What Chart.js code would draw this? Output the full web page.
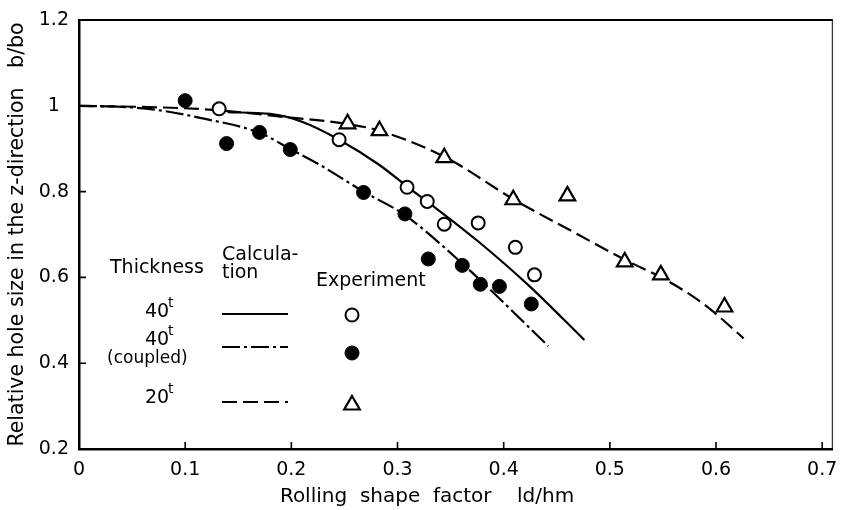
<!DOCTYPE html>
<html>
<head>
<meta charset="utf-8">
<script src="https://cdn.jsdelivr.net/npm/chart.js@4.4.0/dist/chart.umd.min.js"></script>
<style>
  html, body { margin: 0; padding: 0; background: #fff; }
  #wrap { width: 844px; height: 510px; }
</style>
</head>
<body>
<div id="wrap"><canvas id="chart" width="844" height="510"></canvas></div>
<script>
// axis ticks
const xTicks = [0, 0.1, 0.2, 0.3, 0.4, 0.5, 0.6, 0.7];
const xTickLabels = ['0', '0.1', '0.2', '0.3', '0.4', '0.5', '0.6', '0.7'];
const yTicks = [0.2, 0.4, 0.6, 0.8, 1.0, 1.2];
const yTickLabels = ['0.2', '0.4', '0.6', '0.8', '1', '1.2'];

// calculation curves
const calc40X = [0.140, 0.180, 0.210, 0.245, 0.283, 0.310, 0.330, 0.375, 0.425, 0.476];
const calc40Y = [0.985, 0.981, 0.963, 0.921, 0.862, 0.810, 0.773, 0.686, 0.578, 0.454];

const calc40cX = [0, 0.050, 0.080, 0.114, 0.170, 0.200, 0.227, 0.268, 0.307, 0.362, 0.442];
const calc40cY = [1.0, 0.996, 0.988, 0.972, 0.937, 0.898, 0.862, 0.800, 0.745, 0.630, 0.440];

const calc20X = [0, 0.080, 0.130, 0.193, 0.252, 0.283, 0.345, 0.410, 0.470, 0.515, 0.550, 0.590, 0.626];
const calc20Y = [1.0, 0.996, 0.990, 0.974, 0.958, 0.942, 0.880, 0.781, 0.700, 0.640, 0.598, 0.535, 0.458];

// experiments
const exp40X = [0.132, 0.245, 0.309, 0.328, 0.344, 0.376, 0.411, 0.429];
const exp40Y = [0.993, 0.921, 0.810, 0.777, 0.724, 0.727, 0.670, 0.606];

const exp40cX = [0.100, 0.139, 0.170, 0.199, 0.268, 0.307, 0.329, 0.361, 0.378, 0.396, 0.426];
const exp40cY = [1.012, 0.912, 0.938, 0.898, 0.798, 0.748, 0.643, 0.628, 0.584, 0.579, 0.538];

const exp20X = [0.253, 0.283, 0.344, 0.409, 0.460, 0.514, 0.548, 0.608];
const exp20Y = [0.958, 0.942, 0.879, 0.781, 0.790, 0.636, 0.606, 0.531];

const pts = (xs, ys) => xs.map((x, i) => ({x: x, y: ys[i]}));

const FONT = '"DejaVu Sans", sans-serif';
const dashCalc20 = [15, 6];
const dashCalc40c = [18, 4, 3, 4];

const openCircle = {pointStyle: 'circle', radius: 6.5, backgroundColor: '#fff', borderColor: '#000', borderWidth: 2};
const fullCircle = {pointStyle: 'circle', radius: 7, backgroundColor: '#000', borderColor: '#000', borderWidth: 1};
const triangle = {pointStyle: 'triangle', radius: 9, backgroundColor: '#fff', borderColor: '#000', borderWidth: 2.2};

function curve(data, dash) {
  return {
    data: data, showLine: true, borderColor: '#000', borderWidth: 2.2,
    borderDash: dash, pointRadius: 0, cubicInterpolationMode: 'monotone', order: 2
  };
}
function marks(data, st) {
  return {
    data: data, showLine: false, pointStyle: st.pointStyle, pointRadius: st.radius,
    pointBackgroundColor: st.backgroundColor, pointBorderColor: st.borderColor,
    pointBorderWidth: st.borderWidth, pointHoverRadius: st.radius, order: 1
  };
}

const frame = {
  id: 'frame',
  afterDraw(chart) {
    const {ctx, chartArea: a, scales: {x, y}} = chart;
    ctx.save();
    ctx.strokeStyle = '#000';
    ctx.lineWidth = 2.2;
    ctx.beginPath(); ctx.moveTo(a.left, a.top); ctx.lineTo(a.right, a.top); ctx.stroke();
    ctx.lineWidth = 1;
    ctx.beginPath(); ctx.moveTo(a.right - 0.5, a.top); ctx.lineTo(a.right - 0.5, a.bottom); ctx.stroke();
    // inward tick marks
    ctx.lineWidth = 1.6;
    ctx.beginPath();
    xTicks.forEach(v => {
      if (v === 0) return;
      const px = x.getPixelForValue(v);
      ctx.moveTo(px, a.bottom); ctx.lineTo(px, a.bottom - 7);
    });
    yTicks.forEach(v => {
      if (v === 0.2 || v === 1.2) return;
      const py = y.getPixelForValue(v);
      ctx.moveTo(a.left, py); ctx.lineTo(a.left + 7, py);
    });
    ctx.stroke();

    // x axis title
    ctx.fillStyle = '#000';
    ctx.font = '20px ' + FONT;
    ctx.textAlign = 'center';
    ctx.textBaseline = 'middle';
    ctx.fillText('Rolling  shape  factor    ld/hm', 427, 497);

    // legend
    ctx.font = '19px ' + FONT;
    ctx.textAlign = 'left';
    ctx.fillText('Thickness', 110, 268);
    ctx.fillText('Calcula-', 222, 255);
    ctx.fillText('tion', 222, 273);
    ctx.fillText('Experiment', 316, 281);
    const rows = [
      {label: '40', y: 312, dash: [], mark: openCircle},
      {label: '40', y: 340, dash: dashCalc40c, mark: fullCircle, sub: '(coupled)'},
      {label: '20', y: 398, dash: dashCalc20, mark: triangle}
    ];
    const lineY = [314, 347, 402];
    const markY = [315, 353, 405];
    rows.forEach((r, i) => {
      ctx.fillStyle = '#000';
      ctx.strokeStyle = '#000';
      ctx.font = '19px ' + FONT;
      ctx.fillText(r.label, 145, r.y);
      ctx.font = '14px ' + FONT;
      ctx.fillText('t', 168, r.y - 9);
      if (r.sub) {
        ctx.font = '17px ' + FONT;
        ctx.fillText(r.sub, 107, r.y + 19);
      }
      ctx.setLineDash(r.dash);
      ctx.lineWidth = 2.2;
      ctx.beginPath(); ctx.moveTo(222, lineY[i]); ctx.lineTo(288, lineY[i]); ctx.stroke();
      ctx.setLineDash([]);
      ctx.fillStyle = r.mark.backgroundColor;
      ctx.strokeStyle = r.mark.borderColor;
      ctx.lineWidth = r.mark.borderWidth;
      Chart.helpers.drawPoint(ctx, r.mark, 352, markY[i]);
    });
    ctx.restore();
  }
};

new Chart(document.getElementById('chart'), {
  type: 'scatter',
  data: {
    datasets: [
      curve(pts(calc40X, calc40Y), []),
      curve(pts(calc40cX, calc40cY), dashCalc40c),
      curve(pts(calc20X, calc20Y), dashCalc20),
      marks(pts(exp40X, exp40Y), openCircle),
      marks(pts(exp40cX, exp40cY), fullCircle),
      marks(pts(exp20X, exp20Y), triangle)
    ]
  },
  options: {
    responsive: false,
    animation: false,
    layout: {padding: {top: 20, right: 1, left: 0, bottom: 0}},
    plugins: {legend: {display: false}, tooltip: {enabled: false}},
    scales: {
      x: {
        type: 'linear', min: 0, max: 0.71,
        grid: {display: false},
        border: {color: '#000', width: 2.5},
        afterBuildTicks: s => { s.ticks = xTicks.map(v => ({value: v})); },
        afterFit: s => { s.height = 61; s.paddingLeft = 0; s.paddingRight = 0; },
        ticks: {
          color: '#000', padding: 2, maxRotation: 0, autoSkip: false,
          font: {family: FONT, size: 19},
          callback: (v, i) => xTickLabels[i]
        }
      },
      y: {
        type: 'linear', min: 0.2, max: 1.2,
        grid: {display: false},
        border: {color: '#000', width: 2.5},
        afterBuildTicks: s => { s.ticks = yTicks.map(v => ({value: v})); },
        afterFit: s => { s.width = 79; },
        title: {
          display: true, text: 'Relative hole size in the z-direction   b/bo',
          color: '#000', font: {family: FONT, size: 20.5}, padding: {top: 5, bottom: 0}
        },
        ticks: {
          color: '#000', padding: 2, crossAlign: 'center', autoSkip: false,
          font: {family: FONT, size: 19},
          callback: (v, i) => yTickLabels[i]
        }
      }
    }
  },
  plugins: [frame]
});
</script>
</body>
</html>
